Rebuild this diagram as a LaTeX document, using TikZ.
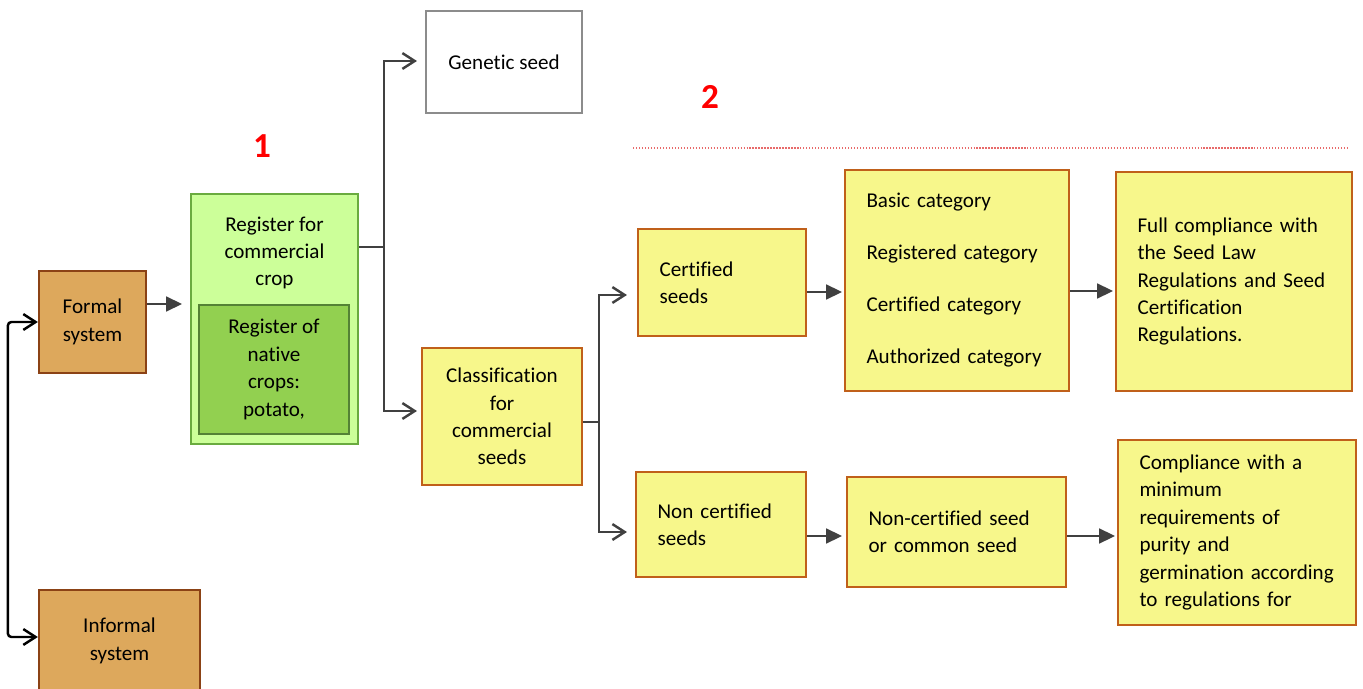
\documentclass[tikz,border=0pt]{standalone}
\usepackage{fontspec}
\setmainfont{Carlito}[Ligatures={NoCommon}]
\usetikzlibrary{arrows.meta, calc}

\definecolor{tanfill}{HTML}{DDA85C}
\definecolor{brownline}{HTML}{8B4215}
\definecolor{lightgreen}{HTML}{CCFF99}
\definecolor{greenline}{HTML}{6AAB3F}
\definecolor{midgreen}{HTML}{92D050}
\definecolor{darkgreen}{HTML}{548235}
\definecolor{yellowfill}{HTML}{F7F78B}
\definecolor{yellowline}{HTML}{C0601A}
\definecolor{greyline}{HTML}{8C8C8C}
\definecolor{arrowgrey}{HTML}{404040}
\definecolor{dotred}{HTML}{E86A6A}

\begin{document}
\begin{tikzpicture}[x=0.02cm, y=-0.02cm, font=\fontsize{12}{15.6}\selectfont]
	\tikzstyle{sysbox}=[
		draw=brownline,
		fill=tanfill,
		line width=1.3pt,
		align=center
	]
	\tikzstyle{regbox}=[
		draw=greenline,
		fill=lightgreen,
		line width=1.2pt
	]
	\tikzstyle{nativebox}=[
		draw=darkgreen,
		fill=midgreen,
		line width=1.2pt,
		align=center
	]
	\tikzstyle{seedbox}=[
		draw=yellowline,
		fill=yellowfill,
		line width=1.2pt,
		inner xsep=0.43cm,
		inner ysep=0pt,
		align=left
	]
	\tikzstyle{fillarrow}=[
		draw=arrowgrey,
		line width=1.1pt,
		-{Triangle[length=9pt, width=8.5pt]}
	]
	\tikzstyle{openarrow}=[
		draw=arrowgrey,
		line width=1.4pt,
		-{Straight Barb[length=7pt, width=9pt]}
	]
	\tikzstyle{twoway}=[
		draw=black,
		line width=1.4pt,
		rounded corners=2pt,
		{Straight Barb[length=7pt, width=9pt]}-{Straight Barb[length=7pt, width=9pt]}
	]
	\tikzstyle{numlabel}=[
		text=red,
		font=\fontsize{20}{24}\selectfont\bfseries
	]

	\useasboundingbox (0,0) rectangle (1363,689);

	% systems
	\node (formal) at (92.5,322) [sysbox, minimum width=2.14cm, minimum height=2.04cm] {Formal\\system};
	\node (informal) at (119.5,641) [sysbox, minimum width=3.22cm, minimum height=2.04cm] {Informal\\system};

	% registers
	\node (reg) at (274.5,319) [regbox, minimum width=3.34cm, minimum height=5cm] {};
	\node (regtxt) at (274.5,253) [align=center] {Register for\\commercial\\crop};
	\node (native) at (274,369.5) [nativebox, minimum width=3cm, minimum height=2.58cm] {Register of\\native\\crops:\\potato,};
	\node (gen) at (504,62) [draw=greyline, fill=white, line width=1.2pt, minimum width=3.12cm, minimum height=2.04cm] {Genetic seed};
	\node (class) at (502,416.5) [seedbox, align=center, inner xsep=0pt, text width=3.2cm, minimum height=2.74cm] {Classification\\for\\commercial\\seeds};

	% seed classes
	\node (cert) at (722,282.5) [seedbox, text width=3.36cm-0.86cm, minimum height=2.14cm] {Certified\\seeds};
	\node (noncert) at (721,524.5) [seedbox, text width=3.4cm-0.86cm, minimum height=2.1cm] {Non certified\\seeds};
	\node (cat) at (957,280.5) [seedbox, text width=4.48cm-0.86cm, minimum height=4.42cm] {Basic category\\[14pt]Registered category\\[14pt]Certified category\\[14pt]Authorized category};
	\node (full) at (1234,281.5) [seedbox, text width=4.72cm-0.86cm, minimum height=4.38cm] {Full compliance with\\the Seed Law\\Regulations and Seed\\Certification\\Regulations.};
	\node (common) at (956.5,532) [seedbox, text width=4.38cm-0.86cm, minimum height=2.2cm] {Non-certified seed\\or common seed};
	\node (comp) at (1237,532.5) [seedbox, text width=4.76cm-0.86cm, minimum height=3.7cm] {Compliance with a\\minimum\\requirements of\\purity and\\germination according\\to regulations for};

	% numbers and divider
	\node (one) at (262,146) [numlabel] {1};
	\node (two) at (710,97) [numlabel] {2};
	\draw [dotred, densely dotted, line width=0.7pt] (633,148) -- (1347,148);

	% connectors
	\draw [twoway] (formal.west) -- ++(-30,0) |- ($(informal.west)+(0,-4)$);
	\draw [fillarrow] ($(formal.east)+(0,-18)$) -- ($(reg.west)+(-8,-15)$);
	\coordinate (r1) at ($(reg.north east)+(0,54)$);
	\draw [openarrow] (r1) -- ++(25,0) |- ($(gen.west)+(-8,-1)$);
	\draw [openarrow] (r1) -- ++(25,0) |- ($(class.west)+(-4,-5.5)$);
	\coordinate (c1) at ($(class.east)+(0,5.5)$);
	\draw [openarrow] (c1) -- ++(16,0) |- ($(cert.west)+(-10,12.5)$);
	\draw [openarrow] (c1) -- ++(16,0) |- ($(noncert.west)+(-8,7.5)$);
	\draw [fillarrow] ($(cert.east)+(0,9.5)$) -- ($(cat.west)+(-2,11.5)$);
	\draw [fillarrow] ($(cat.east)+(0,10.5)$) -- ($(full.west)+(-2,9.5)$);
	\draw [fillarrow] ($(noncert.east)+(0,11.5)$) -- ($(common.west)+(-4,4)$);
	\draw [fillarrow] ($(common.east)+(0,4)$) -- ($(comp.west)+(-2,3.5)$);
\end{tikzpicture}
\end{document}
